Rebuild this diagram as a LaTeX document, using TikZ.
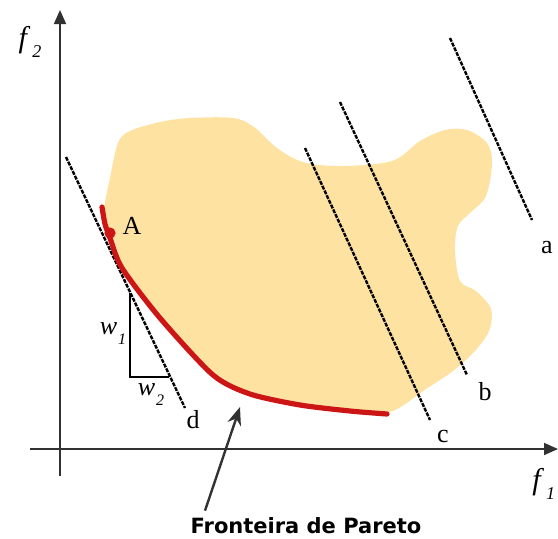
\documentclass[tikz,border=0pt]{standalone}
\usepackage{fontspec}
\setmainfont{Liberation Serif}
\newfontfamily\sansfont{DejaVu Sans}
\usetikzlibrary{arrows.meta}
\definecolor{regioncol}{RGB}{253,226,162}
\definecolor{frontcol}{RGB}{204,22,22}
\definecolor{axiscol}{RGB}{50,50,50}
\newcommand{\wsub}[1]{\textit{w}\kern0.5pt\raisebox{-5pt}{\footnotesize\itshape #1}}

\begin{document}
\begin{tikzpicture}[x=0.5pt, y=-0.5pt,
  axis/.style={draw=axiscol, line width=0.8pt, -{Triangle[length=7pt, width=6pt]}},
  level/.style={line width=1.2pt, dash pattern=on 2pt off 0.6pt},
  lab/.style={inner sep=0pt, font=\fontsize{13}{15}\selectfont}]
  \useasboundingbox (0,0) rectangle (558,538);

  % feasible region
  \fill[regioncol] plot[smooth cycle, tension=0.55] coordinates {
    (118,143) (130,131) (160,122) (190,118) (233,118) (254,127) (277,148)
    (303,162) (340,166) (392,161) (420,141) (445,130) (467,130) (487,143)
    (492,163) (486,196) (470,213) (458,226) (455,250) (460,281) (476,291)
    (491,309) (489,331) (474,352) (453,371) (426,389) (390,412) (350,411)
    (300,405) (250,394) (213,375) (160,318) (122,268) (108,232) (104,210)
    (110,178)};

  % axes
  \coordinate (o1) at (60,476);
  \coordinate (o2) at (30,449);
  \coordinate (top) at (60,10);
  \coordinate (right) at (558,449);
  \draw[axis] (o1) -- (top);
  \draw[axis] (o2) -- (right);
  \node[lab, font=\fontsize{15}{17}\selectfont] (f2) at (30,42) {\textit{f}\kern1pt\raisebox{-5pt}{\small\itshape 2}};
  \node[lab, font=\fontsize{15}{17}\selectfont, anchor=west] (f1) at (532,484) {\textit{f}\kern1pt\raisebox{-5pt}{\small\itshape 1}};

  % level lines
  \coordinate (a0) at (450,38);  \coordinate (a1) at (532,220);
  \coordinate (b0) at (340,102); \coordinate (b1) at (467,375);
  \coordinate (c0) at (305,148); \coordinate (c1) at (430,420);
  \coordinate (d0) at (66,157);  \coordinate (d1) at (185,408);
  \draw[level] (a0) -- (a1);
  \draw[level] (b0) -- (b1);
  \draw[level] (c0) -- (c1);
  \draw[level] (d0) -- (d1);
  \node[lab] (la) at (547,248) {a};
  \node[lab] (lb) at (485,392) {b};
  \node[lab] (lc) at (443,436) {c};
  \node[lab] (ld) at (193,420) {d};

  % weights
  \coordinate (t0) at (130,293);
  \coordinate (t1) at (130,377);
  \coordinate (t2) at (169,377);
  \draw[line width=0.8pt] (t0) -- (t1) -- (t2);
  \node[lab] (w1) at (113,334) {\wsub{1}};
  \node[lab] (w2) at (151,395) {\wsub{2}};

  % Pareto front
  \draw[frontcol, line width=2.6pt, line cap=round] plot[smooth, tension=0.45] coordinates {
    (102,207) (105,224) (110,238) (122,268) (160,318) (213,375) (250,394)
    (300,405) (350,411) (387,414)};
  \fill[frontcol] (110,233) circle (2.8pt);
  \node[lab] (A) at (132,226) {A};

  \node[font=\sansfont\bfseries\fontsize{10.5}{12}\selectfont, anchor=base, inner sep=0pt] (front) at (306,533) {Fronteira de Pareto};
  \coordinate (fronttip) at (240,407);
  \draw[line width=1.2pt, axiscol, -{Stealth[length=9pt, width=7pt]}] ([xshift=-50.5pt, yshift=3pt]front.north) -- (fronttip);
\end{tikzpicture}
\end{document}
